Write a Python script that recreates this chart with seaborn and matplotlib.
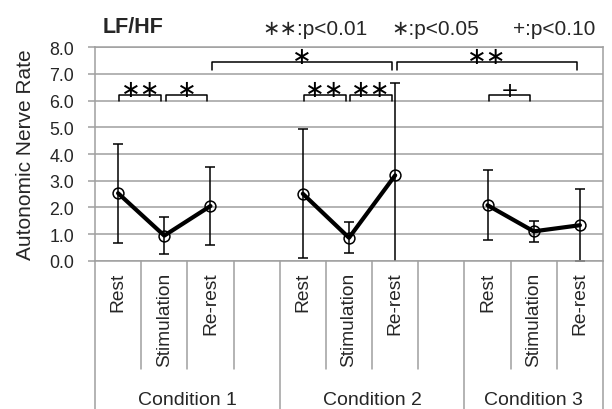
import numpy as np
import pandas as pd
import matplotlib
matplotlib.use("Agg")
import matplotlib.pyplot as plt
import matplotlib.transforms as mtransforms
import seaborn as sns

# ---------------- data ----------------
conditions = ["Condition 1", "Condition 2", "Condition 3"]
phases = ["Rest", "Stimulation", "Re-rest"]
means_c1 = [2.53, 0.94, 2.05]
means_c2 = [2.51, 0.86, 3.20]
means_c3 = [2.08, 1.10, 1.33]
sd_c1 = [1.86, 0.68, 1.46]
sd_c2 = [2.42, 0.58, 3.47]
sd_c3 = [1.31, 0.40, 1.35]
y_ticks = [0, 1, 2, 3, 4, 5, 6, 7, 8]
title_text = "LF/HF"
ylabel_text = "Autonomic Nerve Rate"
legend_texts = ["\u2217\u2217:p<0.01", "\u2217:p<0.05", "+:p<0.10"]
# significance brackets: (condition a, phase a, condition b, phase b, mark, level)
sig_brackets = [
    (0, 0, 0, 1, "\u2217\u2217", 0),
    (0, 1, 0, 2, "\u2217", 0),
    (1, 0, 1, 1, "\u2217\u2217", 0),
    (1, 1, 1, 2, "\u2217\u2217", 0),
    (2, 0, 2, 1, "+", 0),
    (0, 2, 1, 2, "\u2217", 1),
    (1, 2, 2, 2, "\u2217\u2217", 1),
]

all_means = [means_c1, means_c2, means_c3]
all_sds = [sd_c1, sd_c2, sd_c3]
slots_per_group = 4

def slot(ci, pi):
    return ci * slots_per_group + pi

rows = []
for ci, cond in enumerate(conditions):
    for pi, ph in enumerate(phases):
        rows.append({"condition": cond, "phase": ph, "pos": slot(ci, pi),
                     "value": all_means[ci][pi], "sd": all_sds[ci][pi]})
df = pd.DataFrame(rows)

n_slots = slot(len(conditions) - 1, len(phases) - 1) + 1
tick_labels = [""] * n_slots
for ci in range(len(conditions)):
    for pi, ph in enumerate(phases):
        tick_labels[slot(ci, pi)] = ph

# ---------------- style ----------------
sns.set_theme(style="white")
FONTS = ["Liberation Sans", "DejaVu Sans"]
plt.rcParams["font.family"] = FONTS
GRAY = "#9f9f9f"

fig = plt.figure(figsize=(6.12, 4.10), dpi=100)
ax = fig.add_axes([95 / 612, 1 - 261.7 / 410, 508 / 612, 213.4 / 410])

ax.yaxis.grid(True, color=GRAY, lw=1.1)
ax.xaxis.grid(False)
ax.set_axisbelow(True)

sns.lineplot(data=df, x="pos", y="value", hue="condition",
             palette=["black"] * len(conditions), estimator=None, sort=False,
             legend=False, lw=3.0, marker="o", markersize=7.8,
             markerfacecolor="none", markeredgecolor="black",
             markeredgewidth=1.1, ax=ax, zorder=3)
ax.errorbar(df["pos"], df["value"], yerr=df["sd"], fmt="none",
            ecolor="black", elinewidth=1.1, capsize=3.6, capthick=1.1,
            zorder=2)

ax.set_xlim(-0.5, n_slots - 0.5)
ax.set_ylim(y_ticks[0], y_ticks[-1])
ax.set_yticks(y_ticks)
ax.set_yticklabels([f"{v:.1f}" for v in y_ticks])
ax.set_xticks(range(n_slots))
ax.set_xticklabels(tick_labels, rotation=90, va="top", ha="center",
                   fontsize=13.8)
ax.set_xlabel("")
ax.set_ylabel(ylabel_text, fontsize=15)
ax.yaxis.set_label_coords(-0.118, 0.5)
ax.tick_params(axis="y", length=5, width=1.1, color=GRAY, pad=10,
               labelsize=12.8, left=True)
ax.tick_params(axis="x", length=0, pad=8)
for sp in ax.spines.values():
    sp.set_color(GRAY)
    sp.set_linewidth(1.1)
    sp.set_visible(True)

# multi-level category separators
trans = mtransforms.blended_transform_factory(ax.transData, ax.transAxes)
short_bottom = -(370 - 261.7) / 213.4
long_bottom = -(410 - 261.7) / 213.4
for ci in range(len(conditions)):
    start = ci * slots_per_group - 0.5
    end = min(start + slots_per_group, n_slots - 0.5)
    ax.plot([start, start], [0, long_bottom], transform=trans, color=GRAY,
            lw=1.1, clip_on=False)
    k = start + 1
    while k < end - 0.01:
        ax.plot([k, k], [0, short_bottom], transform=trans, color=GRAY,
                lw=1.1, clip_on=False)
        k += 1
    ax.text((start + end) / 2, -(405 - 261.7) / 213.4, conditions[ci],
            transform=trans, ha="center", va="baseline", fontsize=14)
ax.plot([n_slots - 0.5, n_slots - 0.5], [0, long_bottom], transform=trans,
        color=GRAY, lw=1.1, clip_on=False)

# significance brackets
levels = {0: (5.99, 6.22), 1: (7.16, 7.46)}
for ca, pa, cb, pb, mark, lvl in sig_brackets:
    x0 = slot(ca, pa) + 0.03
    x1 = slot(cb, pb) - 0.07
    yb, yt = levels[lvl]
    ax.plot([x0, x0, x1, x1], [yb, yt, yt, yb], color="black", lw=1.1,
            clip_on=False, zorder=4)
    ax.text((x0 + x1) / 2, yt - 0.04, mark, ha="center", va="baseline",
            fontsize=17 if mark != "+" else 15.5, family=["DejaVu Sans"],
            color="black")

# title and significance key
fig.text(103 / 612, 1 - 33.3 / 410, title_text, fontsize=15.5,
         fontweight="bold", ha="left", va="baseline")
key_pos = [(262, "left"), (479, "right"), (595, "right")]
for (xk, ha), t in zip(key_pos, legend_texts):
    fig.text(xk / 612, 1 - 35 / 410, t, fontsize=15, ha=ha,
             va="baseline", family=FONTS)

fig.savefig("out.png", dpi=100)
